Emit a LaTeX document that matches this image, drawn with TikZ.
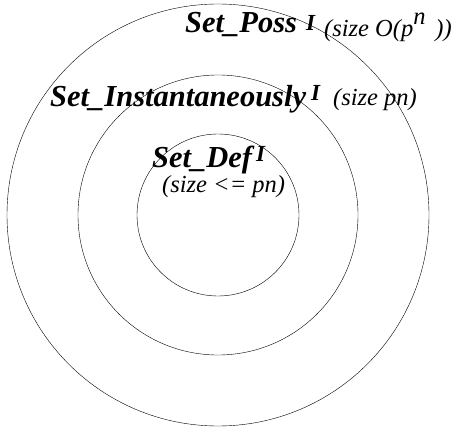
\documentclass[tikz,border=0pt]{standalone}
\usepackage{fontspec}
\setmainfont{Liberation Serif}
\usetikzlibrary{positioning}

\begin{document}
\begin{tikzpicture}[x=1pt, y=-1pt,
    setname/.style={font=\fontsize{30.5}{30}\selectfont\bfseries\itshape, inner sep=0pt, anchor=base west},
    setsup/.style={font=\fontsize{23}{23}\selectfont\bfseries\itshape, inner sep=0pt, anchor=base west},
    sizenote/.style={font=\fontsize{24.5}{24}\selectfont\itshape, inner sep=0pt, anchor=base west}]

    \useasboundingbox (0,0) rectangle (460,430);

    % nested sets
    \draw (218,215) circle[radius=211];
    \draw (218,215) circle[radius=140];
    \draw (218,215) circle[radius=81];

    \node[setname] (poss) at (185,33) {Set\_Poss};
    \node[setsup] (possI) at (306,31) {I};
    \node[sizenote] (possSize) at (324,37) {(size O(p\raisebox{0.5em}{n}\hspace{0.4em}))};

    \node[setname] (inst) at (50,107) {Set\_Instantaneously};
    \node[setsup] (instI) at (311,101) {I};
    \node[sizenote] (instSize) at (333,106) {(size pn)};

    \node[setname] (def) at (152,168) {Set\_Def};
    \node[setsup] (defI) at (256,162) {I};
    \node[sizenote] (defSize) at (162,193) {(size <= pn)};

\end{tikzpicture}
\end{document}
